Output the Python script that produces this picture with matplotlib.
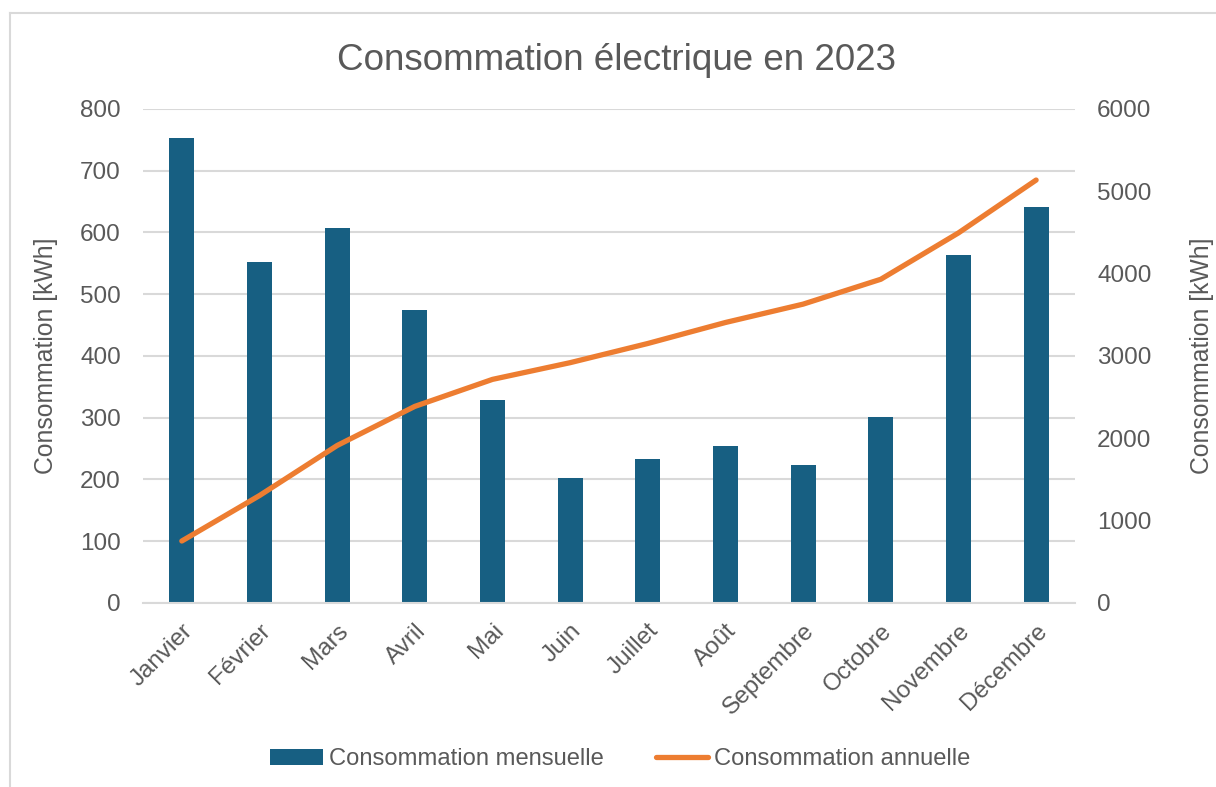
import matplotlib.pyplot as plt
from matplotlib.lines import Line2D

plt.rcParams['font.family'] = ['Liberation Sans', 'DejaVu Sans']

# Données 2023
mois = ["Janvier", "Février", "Mars", "Avril", "Mai", "Juin", "Juillet",
        "Août", "Septembre", "Octobre", "Novembre", "Décembre"]
mensuelle = [753, 552, 608, 475, 328, 203, 233, 255, 223, 302, 563, 642]
annuelle = [753, 1305, 1913, 2388, 2716, 2919, 3152, 3407, 3630, 3932, 4495, 5137]

bleu = "#175f82"
orange = "#ed7d31"
gris_texte = "#595959"
gris_grille = "#d9d9d9"

fig = plt.figure(figsize=(12.16, 7.87), dpi=100)
ax = fig.add_axes([0.1176, 0.2338, 0.7664, 0.6277])
ax2 = ax.twinx()

x = range(len(mois))
barres = ax.bar(x, mensuelle, width=0.32, color=bleu, zorder=2,
                label="Consommation mensuelle")
ligne, = ax2.plot(x, annuelle, color=orange, lw=3.8, solid_capstyle='round',
                  zorder=3, label="Consommation annuelle")

ax.set_xlim(-0.5, 11.5)
ax.set_ylim(0, 800)
ax2.set_ylim(0, 6000)
ax.set_yticks(range(0, 801, 100))
ax2.set_yticks(range(0, 6001, 1000))
ax.yaxis.grid(True, color=gris_grille, lw=1.5, zorder=0)
ax.set_axisbelow(True)

ax.set_xticks(list(x))
ax.set_xticklabels(mois, rotation=45, ha='right', rotation_mode='anchor')

for a in (ax, ax2):
    for s in a.spines.values():
        s.set_visible(False)
    a.tick_params(length=0, labelsize=17.5, labelcolor=gris_texte)
ax.tick_params(axis='y', pad=16)
ax.tick_params(axis='x', pad=12)
ax2.tick_params(axis='y', pad=16)
ax.spines['bottom'].set_visible(True)
ax.spines['bottom'].set_color(gris_grille)
ax.spines['bottom'].set_linewidth(1.5)

ax.set_ylabel("Consommation [kWh]", fontsize=17.8, color=gris_texte, labelpad=16)
ax2.set_ylabel("Consommation [kWh]", fontsize=17.8, color=gris_texte, labelpad=28)

fig.suptitle("Consommation électrique en 2023", fontsize=26.5, color=gris_texte,
             x=0.507, y=0.945)

fig.legend([barres, ligne], ["Consommation mensuelle", "Consommation annuelle"],
           loc='center', bbox_to_anchor=(0.51, 0.035), ncol=2, frameon=False,
           fontsize=17.1, labelcolor=gris_texte, handlelength=2.2,
           handletextpad=0.25, columnspacing=2.2)

# bordure de la zone du graphique
fig.add_artist(Line2D([10 / 1216, 10 / 1216], [0, 1 - 13 / 787],
                      transform=fig.transFigure, color=gris_grille, lw=1.5))
fig.add_artist(Line2D([10 / 1216, 1], [1 - 13 / 787, 1 - 13 / 787],
                      transform=fig.transFigure, color=gris_grille, lw=1.5))

fig.savefig("out.png", dpi=100)
